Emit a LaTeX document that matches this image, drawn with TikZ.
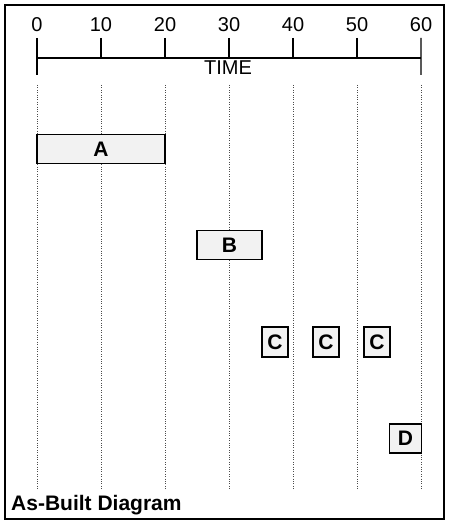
\documentclass[tikz,border=0pt]{standalone}
\usepackage{fontspec}
\setmainfont{Liberation Sans}
\begin{document}
\begin{tikzpicture}[x=1pt,y=-1pt,
  lbl/.style={font=\fontsize{20}{20}\selectfont, inner sep=0pt},
  task/.style={draw=black, line width=1.4pt, fill=gray!10, inner sep=0pt, font=\bfseries\fontsize{21}{21}\selectfont},
  grid/.style={line width=0.8pt, dash pattern=on 0.8pt off 1.6pt, black!70},
  axis/.style={line width=1.3pt}]
\useasboundingbox (0,0) rectangle (448,521);
\draw[line width=2pt] (5,5) rectangle (444,519);
% axis
\coordinate (a0) at (37,58);
\coordinate (a60) at (421,58);
\draw[axis] (a0) -- (a60);
\foreach \t in {0,10,...,60}{
  \pgfmathsetmacro{\xx}{37+6.4*\t}
  \node[lbl] (t\t) at (\xx,25) {\t};
  \coordinate (top\t) at (\xx,38);
  \coordinate (g\t) at (\xx,85);
  \coordinate (h\t) at (\xx,490);
  \draw[grid] (g\t) -- (h\t);
}
\foreach \t in {10,20,...,50}{
  \pgfmathsetmacro{\xx}{37+6.4*\t}
  \coordinate (m\t) at (\xx,58);
  \draw[axis] (top\t) -- (m\t);
}
\coordinate (e0) at (37,75);
\coordinate (e60) at (421,75);
\draw[axis] (top0) -- (e0);
\draw[axis] (top60) -- (e60);
\node[lbl] (time) at (228,68) {TIME};
% tasks
\node[task, minimum width=128pt, minimum height=29pt] (A) at (101,149) {A};
\node[task, minimum width=65pt, minimum height=29pt] (B) at (229.5,245) {B};
\node[task, minimum width=26pt, minimum height=30pt] (C1) at (275,342) {C};
\node[task, minimum width=26pt, minimum height=30pt] (C2) at (326,342) {C};
\node[task, minimum width=26pt, minimum height=30pt] (C3) at (377,342) {C};
\node[task, minimum width=32pt, minimum height=29pt] (D) at (405.5,438.5) {D};
\node[anchor=base west, inner sep=0pt, font=\bfseries\fontsize{21}{21}\selectfont] (title) at (11,510) {As-Built Diagram};
\end{tikzpicture}
\end{document}
